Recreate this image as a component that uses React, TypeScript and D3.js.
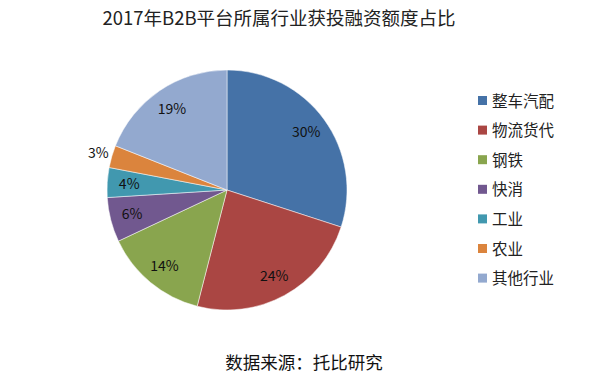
import React, { useEffect, useRef } from "react";
import * as d3 from "d3";

const categories = ["整车汽配", "物流货代", "钢铁", "快消", "工业", "农业", "其他行业"];
const shares = [30, 24, 14, 6, 4, 3, 19];
const colors = ["#4572A7", "#AA4643", "#89A54E", "#71588F", "#4198AF", "#DB843D", "#93A9CF"];
const title = "2017年B2B平台所属行业获投融资额度占比";
const source = "数据来源：托比研究";

const W = 599, H = 385;
const FONT = "'Noto Sans CJK SC', 'Noto Sans', sans-serif";

export default function App() {
  const ref = useRef<SVGSVGElement>(null);

  useEffect(() => {
    const svg = d3.select(ref.current);
    svg.selectAll("*").remove();

    const cx = 227, cy = 190, r = 120;
    const data = categories.map((c, i) => ({ name: c, value: shares[i], color: colors[i] }));

    const pie = d3.pie<any>().sort(null).value(d => d.value);
    const arc = d3.arc<any>().innerRadius(0).outerRadius(r);
    const arcs = pie(data);

    svg.append("text")
      .attr("x", 279).attr("y", 25)
      .attr("text-anchor", "middle")
      .attr("font-family", FONT)
      .attr("font-size", 18.5)
      .attr("fill", "#222")
      .text(title);

    const g = svg.append("g").attr("transform", `translate(${cx},${cy})`);
    g.selectAll("path")
      .data(arcs)
      .join("path")
      .attr("d", arc)
      .attr("fill", d => d.data.color)
      .attr("stroke", "#fff")
      .attr("stroke-width", 0.5);

    // label radius: inside for most, pushed outside for the tiny slice
    g.selectAll("text.lbl")
      .data(arcs)
      .join("text")
      .attr("class", "lbl")
      .attr("transform", d => {
        const a = (d.startAngle + d.endAngle) / 2;
        const lr = d.data.value < 4 ? 134 : 98;
        return `translate(${lr * Math.sin(a)},${-lr * Math.cos(a) + 5})`;
      })
      .attr("text-anchor", "middle")
      .attr("font-family", FONT)
      .attr("font-size", 14)
      .attr("fill", "#111")
      .text(d => d.data.value + "%");

    const legend = svg.append("g").attr("transform", "translate(478,101)");
    const rows = legend.selectAll("g")
      .data(data)
      .join("g")
      .attr("transform", (d, i) => `translate(0,${i * 29.6})`);
    rows.append("rect")
      .attr("x", 0).attr("y", -5)
      .attr("width", 9).attr("height", 9)
      .attr("fill", d => d.color);
    rows.append("text")
      .attr("x", 14).attr("y", 5.5)
      .attr("font-family", FONT)
      .attr("font-size", 15.5)
      .attr("fill", "#222")
      .text(d => d.name);

    svg.append("text")
      .attr("x", 304).attr("y", 369)
      .attr("text-anchor", "middle")
      .attr("font-family", FONT)
      .attr("font-size", 17.5)
      .attr("fill", "#111")
      .text(source);
  }, []);

  return (
    <svg ref={ref} width={W} height={H}
      style={{ position: "absolute", left: 0, top: 0, background: "#fff" }} />
  );
}
